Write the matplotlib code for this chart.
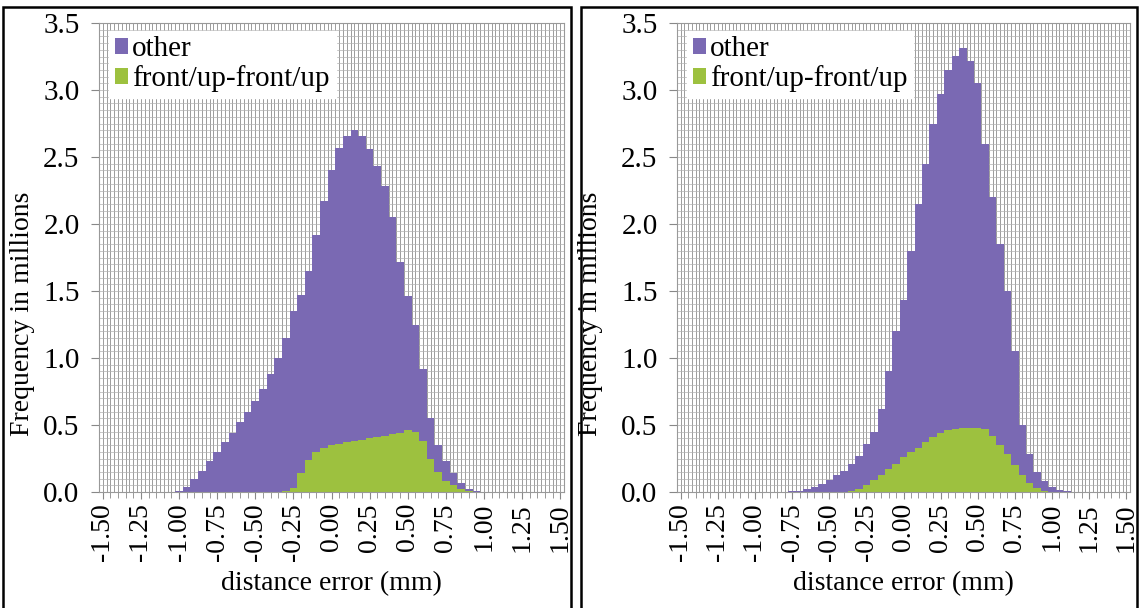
import numpy as np
import matplotlib
matplotlib.use("Agg")
import matplotlib.pyplot as plt
from matplotlib.patches import Rectangle

# bin centres (mm), one bar per 0.05 mm
bins = [round(-1.50 + 0.05 * i, 2) for i in range(61)]

# left panel, totals and the green part (millions)
left_total = [0, 0, 0, 0, 0, 0, 0, 0, 0, 0.003,
              0.01, 0.04, 0.10, 0.16, 0.23, 0.30, 0.37, 0.44, 0.52, 0.60,
              0.68, 0.77, 0.88, 1.00, 1.15, 1.35, 1.47, 1.65, 1.92, 2.17,
              2.40, 2.57, 2.66, 2.70, 2.66, 2.56, 2.43, 2.28, 2.05, 1.72,
              1.46, 1.25, 0.92, 0.55, 0.35, 0.23, 0.14, 0.07, 0.02, 0.005,
              0, 0, 0, 0, 0, 0, 0, 0, 0, 0, 0]
left_front = [0, 0, 0, 0, 0, 0, 0, 0, 0, 0,
              0, 0, 0, 0, 0, 0, 0, 0, 0, 0,
              0, 0, 0, 0, 0.005, 0.03, 0.14, 0.24, 0.30, 0.33,
              0.35, 0.36, 0.37, 0.38, 0.39, 0.40, 0.41, 0.42, 0.43, 0.44,
              0.46, 0.45, 0.38, 0.25, 0.15, 0.08, 0.05, 0.02, 0.01, 0,
              0, 0, 0, 0, 0, 0, 0, 0, 0, 0, 0]

# right panel
right_total = [0, 0, 0, 0, 0, 0, 0, 0, 0, 0,
               0, 0, 0, 0, 0.003, 0.005, 0.01, 0.02, 0.035, 0.06,
               0.09, 0.13, 0.16, 0.21, 0.27, 0.36, 0.45, 0.62, 0.90, 1.20,
               1.43, 1.80, 2.15, 2.45, 2.75, 2.97, 3.15, 3.25, 3.31, 3.22,
               3.05, 2.60, 2.20, 1.85, 1.50, 1.05, 0.50, 0.28, 0.15, 0.08,
               0.04, 0.015, 0.005, 0, 0, 0, 0, 0, 0, 0, 0]
right_front = [0, 0, 0, 0, 0, 0, 0, 0, 0, 0,
               0, 0, 0, 0, 0, 0, 0, 0, 0, 0,
               0, 0, 0, 0.005, 0.02, 0.05, 0.09, 0.13, 0.17, 0.21,
               0.26, 0.30, 0.33, 0.37, 0.41, 0.44, 0.46, 0.47, 0.48, 0.48,
               0.48, 0.47, 0.42, 0.35, 0.28, 0.20, 0.13, 0.07, 0.03, 0.01,
               0, 0, 0, 0, 0, 0, 0, 0, 0, 0, 0]

xticks = [-1.50, -1.25, -1.00, -0.75, -0.50, -0.25, 0.00, 0.25, 0.50, 0.75, 1.00, 1.25, 1.50]
yticks = [0.0, 0.5, 1.0, 1.5, 2.0, 2.5, 3.0, 3.5]

purple = '#7a69b3'
green = '#9dc13f'

plt.rcParams['font.family'] = ['Liberation Serif', 'DejaVu Serif']

W, H = 1139, 608
fig = plt.figure(figsize=(W / 100, H / 100), dpi=100)


def panel(x0, x1, total, front, ylab_x):
    ax = fig.add_axes([x0 / W, (H - 492) / H, (x1 - x0) / W, (492 - 23) / H])
    other = np.array(total) - np.array(front)
    ax.bar(bins, front, width=0.05, color=green, linewidth=0, label='front/up-front/up', zorder=2)
    ax.bar(bins, other, width=0.05, bottom=front, color=purple, linewidth=0, label='other', zorder=2)
    ax.set_xlim(-1.525, 1.525)
    ax.set_ylim(0, 3.5)
    # dense grid like the original
    for gx in np.arange(-1.525, 1.5251, 0.025):
        ax.axvline(gx, color='#8c8c8c', lw=0.6, zorder=0)
    for gy in np.arange(0, 3.501, 0.05):
        ax.axhline(gy, color='#b0b0b0', lw=0.5, zorder=0)
    ax.set_xticks(xticks)
    ax.set_xticklabels(['%.2f' % t for t in xticks], rotation=90, fontsize=20)
    ax.set_xticks(bins, minor=True)
    ax.tick_params(axis='x', which='major', length=5, color='#888888', pad=3)
    ax.tick_params(axis='x', which='minor', length=4, color='#888888')
    ax.set_yticks(yticks)
    ax.set_yticklabels(['%.1f' % t for t in yticks], fontsize=21)
    ax.tick_params(axis='y', length=6, color='#888888', pad=8)
    for s in ax.spines.values():
        s.set_color('#999999')
        s.set_linewidth(0.8)
    ax.set_xlabel('distance error (mm)', fontsize=20, labelpad=7)
    ax.set_ylabel('Frequency in millions', fontsize=20)
    ax.yaxis.set_label_coords(ylab_x, 0.38)
    h, l = ax.get_legend_handles_labels()
    ax.legend(h[::-1], l[::-1], loc='upper left', bbox_to_anchor=(0.015, 0.99),
              fontsize=21, frameon=True, fancybox=False, framealpha=1,
              edgecolor='white', handlelength=0.45, handleheight=0.45,
              handletextpad=0.15, labelspacing=0.1, borderpad=0.2,
              borderaxespad=0.1)
    return ax


ax1 = panel(99, 564, left_total, left_front, -0.138)
ax2 = panel(677, 1130, right_total, right_front, -0.164)

# boxes around each panel
fig.patches.append(Rectangle((3 / W, -0.05), (571 - 3) / W, (H - 7) / H + 0.05,
                             transform=fig.transFigure, fill=False, lw=1.8, color='black'))
fig.patches.append(Rectangle((581 / W, -0.05), (1137 - 581) / W, (H - 7) / H + 0.05,
                             transform=fig.transFigure, fill=False, lw=1.8, color='black'))

fig.savefig('out.png', dpi=100)
